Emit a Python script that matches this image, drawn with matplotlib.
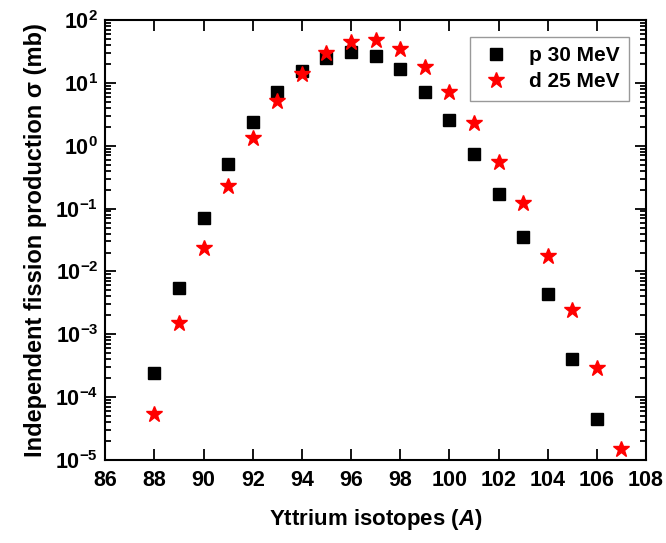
import matplotlib
matplotlib.use("Agg")
import matplotlib.pyplot as plt
from matplotlib.ticker import LogLocator, MultipleLocator, NullFormatter

plt.rcParams["font.family"] = ["Liberation Sans", "DejaVu Sans"]
plt.rcParams["font.weight"] = "bold"
plt.rcParams["mathtext.fontset"] = "custom"
plt.rcParams["mathtext.rm"] = "Liberation Sans:bold"
plt.rcParams["mathtext.it"] = "Liberation Sans:bold:italic"
plt.rcParams["mathtext.bf"] = "Liberation Sans:bold"

# dados
massa_p = [88, 89, 90, 91, 92, 93, 94, 95, 96, 97, 98, 99, 100, 101, 102, 103, 104, 105, 106]
sigma_p = [2.4e-4, 5.4e-3, 0.07, 0.52, 2.4, 7.2, 15.4, 25, 30.6, 27, 16.6, 7.2, 2.6, 0.74,
           0.17, 0.035, 4.4e-3, 4.1e-4, 4.5e-5]

massa_d = [88, 89, 90, 91, 92, 93, 94, 95, 96, 97, 98, 99, 100, 101, 102, 103, 104, 105, 106, 107]
sigma_d = [5.3e-5, 1.5e-3, 0.024, 0.23, 1.35, 5.2, 14, 29.5, 45, 48, 34.5, 17.7, 7.1, 2.28,
           0.56, 0.125, 0.0177, 2.4e-3, 2.9e-4, 1.5e-5]

fig = plt.figure(figsize=(6.66, 5.43), dpi=100)
ax = fig.add_axes([0.158, 0.153, 0.812, 0.810])

ax.plot(massa_p, sigma_p, "s", color="black", markersize=9, label="p 30 MeV", linestyle="none")
ax.plot(massa_d, sigma_d, "*", color="red", markersize=12, label="d 25 MeV", linestyle="none")

ax.set_yscale("log")
ax.set_xlim(86, 108)
ax.set_ylim(1e-5, 1e2)
ax.xaxis.set_major_locator(MultipleLocator(2))
ax.yaxis.set_major_locator(LogLocator(base=10, numticks=20))
ax.yaxis.set_minor_locator(LogLocator(base=10, subs=range(2, 10), numticks=20))
ax.yaxis.set_minor_formatter(NullFormatter())

ax.tick_params(which="both", direction="in", top=True, right=True, labelsize=15.5, width=1.3)
ax.tick_params(which="major", length=8)
ax.tick_params(which="minor", length=4)
ax.tick_params(axis="x", pad=7)
ax.tick_params(axis="y", pad=5)
for s in ax.spines.values():
    s.set_linewidth(1.5)

ax.set_xlabel("Yttrium isotopes ($\\mathit{A}$)", fontsize=16, fontweight="bold", labelpad=12)
ax.set_ylabel("Independent fission production σ (mb)", fontsize=17, fontweight="bold", labelpad=6)

leg = ax.legend(loc="upper right", fontsize=15, frameon=True, fancybox=False,
                edgecolor="gray", borderaxespad=0.8, handletextpad=0.8,
                borderpad=0.45, labelspacing=0.35, handlelength=1.6)
leg.get_frame().set_linewidth(1.0)

fig.savefig("out.png", dpi=100)
